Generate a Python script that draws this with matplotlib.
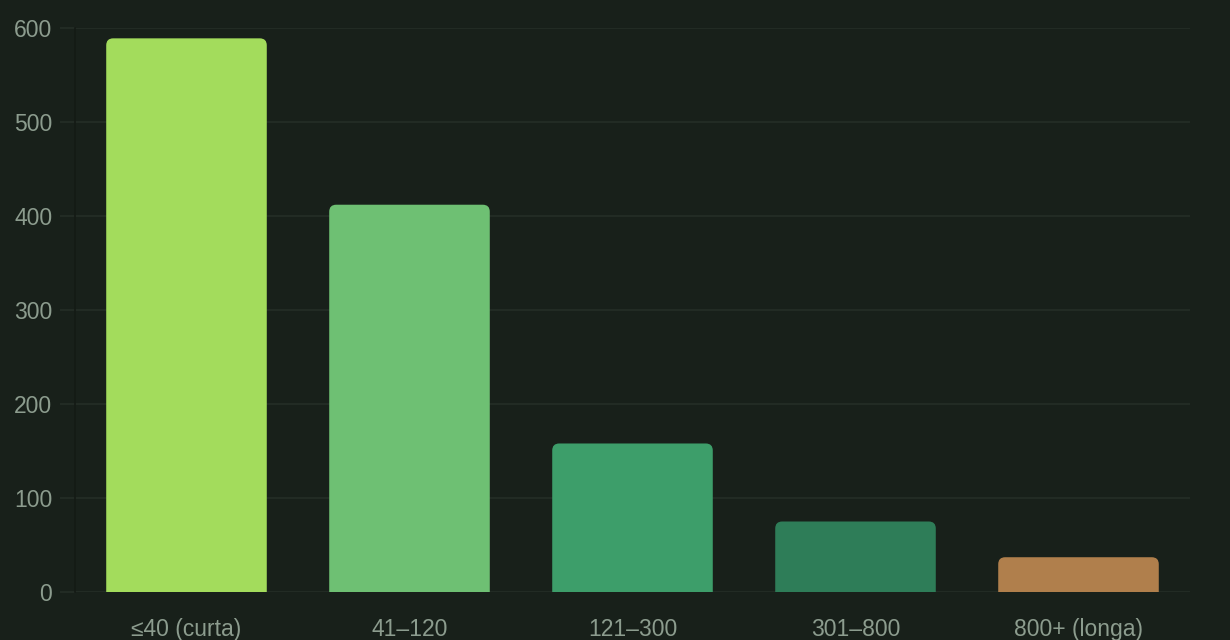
import matplotlib
matplotlib.use("Agg")
import matplotlib.pyplot as plt
from matplotlib.path import Path
from matplotlib.patches import PathPatch

plt.rcParams['font.family'] = ['Liberation Sans', 'DejaVu Sans']

categories = ["≤40 (curta)", "41–120", "121–300", "301–800", "800+ (longa)"]
values = [589, 412, 158, 75, 37]
colors = ["#a3dc5c", "#6ec073", "#3d9e6a", "#2e7d58", "#b07f4c"]
yticks = [0, 100, 200, 300, 400, 500, 600]

BG = "#18201a"
GRID = "#252e27"
TXT = "#8c9c8e"

W, H = 1230, 640
fig = plt.figure(figsize=(W / 100, H / 100), dpi=100, facecolor=BG)
L, R, T, B = 75, 1190, 28, 592
ax = fig.add_axes([L / W, (H - B) / H, (R - L) / W, (B - T) / H], facecolor=BG)
ax.set_xlim(-0.5, len(categories) - 0.5)
ax.set_ylim(0, 600)

bars = ax.bar(range(len(categories)), values, width=0.72, color=colors)
# round top corners
xpp = (len(categories)) / (R - L)
ypp = 600 / (B - T)
rpx = 7
for b, c in zip(bars, colors):
    x0, y0 = b.get_x(), b.get_y()
    w, h = b.get_width(), b.get_height()
    rx, ry = rpx * xpp, min(rpx * ypp, h / 2)
    x1, y1 = x0 + w, y0 + h
    verts = [(x0, y0), (x0, y1 - ry), (x0, y1), (x0 + rx, y1),
             (x1 - rx, y1), (x1, y1), (x1, y1 - ry), (x1, y0), (x0, y0)]
    codes = [Path.MOVETO, Path.LINETO, Path.CURVE3, Path.CURVE3,
             Path.LINETO, Path.CURVE3, Path.CURVE3, Path.LINETO, Path.CLOSEPOLY]
    b.set_visible(False)
    ax.add_patch(PathPatch(Path(verts, codes), facecolor=c, edgecolor="none", zorder=3))

ax.set_yticks(yticks)
ax.set_xticks(range(len(categories)))
ax.set_xticklabels(categories)
ax.grid(axis="y", color=GRID, linewidth=1.2, zorder=0)
ax.set_axisbelow(True)
ax.tick_params(axis="y", length=10.8, width=1.2, color=GRID, labelcolor=TXT, labelsize=16.5, pad=5.5)
ax.tick_params(axis="x", length=0, labelcolor=TXT, labelsize=16.5, pad=19)
for s in ["top", "right", "bottom"]:
    ax.spines[s].set_visible(False)
ax.spines["left"].set_color("#141a15")
ax.spines["left"].set_linewidth(1.2)

fig.savefig("out.png", dpi=100, facecolor=BG)
